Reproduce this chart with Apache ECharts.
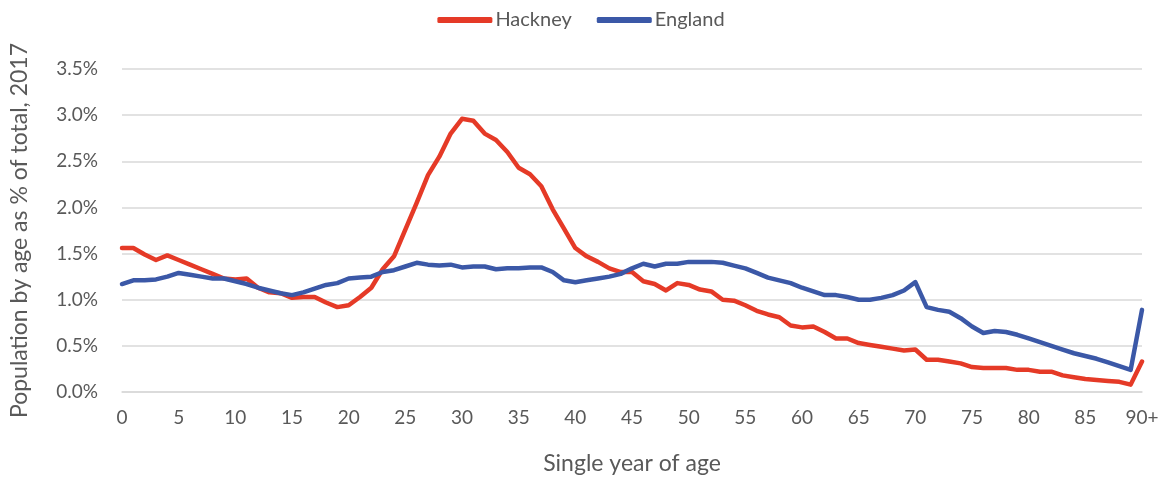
<!DOCTYPE html>
<html><head><meta charset="utf-8">
<script src="https://cdn.jsdelivr.net/npm/echarts@6/dist/echarts.min.js"></script>
<style>html,body{margin:0;padding:0;background:#fff}#c{width:1162px;height:480px}</style>
</head><body><div id="c"></div>
<script>
const ages = [];
for (let i = 0; i < 90; i++) ages.push(String(i));
ages.push('90+');

const hackney = [1.56,1.56,1.49,1.43,1.48,1.43,1.38,1.33,1.28,1.23,1.22,1.23,1.13,1.08,1.07,1.02,1.03,1.03,0.97,0.92,
0.94,1.03,1.13,1.33,1.47,1.76,2.05,2.35,2.55,2.80,2.96,2.94,2.80,2.73,2.60,2.43,2.36,2.23,1.98,1.77,
1.56,1.47,1.41,1.34,1.30,1.30,1.20,1.17,1.10,1.18,1.16,1.11,1.09,1.00,0.99,0.94,0.88,0.84,0.81,0.72,
0.70,0.71,0.65,0.58,0.58,0.53,0.51,0.49,0.47,0.45,0.46,0.35,0.35,0.33,0.31,0.27,0.26,0.26,0.26,0.24,
0.24,0.22,0.22,0.18,0.16,0.14,0.13,0.12,0.11,0.08,0.33];

const england = [1.17,1.21,1.21,1.22,1.25,1.29,1.27,1.25,1.23,1.23,1.20,1.17,1.13,1.10,1.07,1.05,1.08,1.12,1.16,1.18,
1.23,1.24,1.25,1.30,1.32,1.36,1.40,1.38,1.37,1.38,1.35,1.36,1.36,1.33,1.34,1.34,1.35,1.35,1.30,1.21,
1.19,1.21,1.23,1.25,1.28,1.34,1.39,1.36,1.39,1.39,1.41,1.41,1.41,1.40,1.37,1.34,1.29,1.24,1.21,1.18,
1.13,1.09,1.05,1.05,1.03,1.00,1.00,1.02,1.05,1.10,1.19,0.92,0.89,0.87,0.80,0.71,0.64,0.66,0.65,0.62,
0.58,0.54,0.50,0.46,0.42,0.39,0.36,0.32,0.28,0.24,0.89];

const yTicks = [0, 0.5, 1.0, 1.5, 2.0, 2.5, 3.0, 3.5];

const FONT = 'Lato';
const chart = echarts.init(document.getElementById('c'), null, {renderer: 'canvas'});
chart.setOption({
  animation: false,
  textStyle: {fontFamily: FONT},
  legend: {
    top: 5, left: 'center', itemWidth: 55, itemHeight: 6, itemGap: 25,
    icon: 'roundRect',
    textStyle: {fontFamily: FONT, fontSize: 20, color: '#595959', padding: [0, 0, 0, -2]},
    data: ['Hackney', 'England']
  },
  grid: {left: 120, right: 20, top: 69, bottom: 88, containLabel: false},
  xAxis: {
    type: 'category', data: ages, boundaryGap: false,
    name: 'Single year of age', nameLocation: 'middle', nameGap: 60,
    nameTextStyle: {fontFamily: FONT, fontSize: 23, color: '#595959'},
    axisLine: {show: true, lineStyle: {color: '#d9d9d9', width: 1.5}},
    axisTick: {show: false},
    axisLabel: {interval: 4, fontSize: 19, color: '#595959', margin: 16, fontFamily: FONT},
    splitLine: {show: false}
  },
  yAxis: {
    type: 'value', min: 0, max: 3.5, interval: 0.5,
    name: 'Population by age as % of total, 2017', nameLocation: 'middle', nameGap: 91,
    nameTextStyle: {fontFamily: FONT, fontSize: 23, color: '#595959'},
    axisLine: {show: false}, axisTick: {show: false},
    axisLabel: {fontSize: 19, color: '#595959', margin: 24, fontFamily: FONT,
      formatter: v => yTicks.includes(+v.toFixed(1)) ? v.toFixed(1) + '%' : ''},
    splitLine: {lineStyle: {color: '#d9d9d9', width: 1.5}}
  },
  series: [
    {name: 'Hackney', type: 'line', data: hackney, symbol: 'none', smooth: false,
     lineStyle: {width: 4.5, color: '#E53A27', cap: 'round', join: 'round'}, itemStyle: {color: '#E53A27'}},
    {name: 'England', type: 'line', data: england, symbol: 'none', smooth: false,
     lineStyle: {width: 4.5, color: '#3B58A7', cap: 'round', join: 'round'}, itemStyle: {color: '#3B58A7'}}
  ]
});
</script></body></html>
